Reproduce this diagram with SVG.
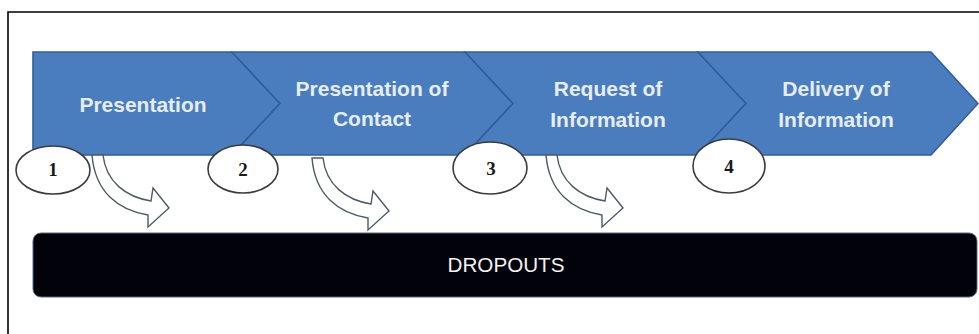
<svg xmlns="http://www.w3.org/2000/svg" width="979" height="334" viewBox="0 0 979 334">
<style>
.chev{fill:#4a7dbd;stroke:#2f5e9c;stroke-width:1.6;stroke-linejoin:miter}
.lbl{font-family:"Liberation Sans",Arial,sans-serif;font-weight:bold;font-size:21px;fill:#e6edf7;text-anchor:middle}
.num{fill:#ffffff;stroke:#3c3c3c;stroke-width:1.6}
.numt{font-family:"Liberation Serif","Times New Roman",serif;font-weight:bold;font-size:19px;fill:#1a1a1a;text-anchor:middle}
.arr{fill:#ffffff;stroke:#505a66;stroke-width:1.4;stroke-linejoin:miter}
</style>
<defs>
<path id="curvArrow" d="M92,155 C95,192 118,210 148,215 L148,227 L169,208 L153,188 L151,201 C126,197 106,182 103,155 Z"/>
</defs>
<rect width="979" height="334" fill="#ffffff"/>
<path d="M8,334 V12 H979" fill="none" stroke="#000000" stroke-width="1.6"/>

<g id="step1">
<path class="chev" d="M33,52 H232 L280,103.5 L232,155 H33 Z"/>
<text class="lbl" x="143" y="112">Presentation</text>
</g>
<g id="step2">
<path class="chev" d="M232,52 H465 L513,103.5 L465,155 H232 L280,103.5 Z"/>
<text class="lbl" x="372" y="96">Presentation of</text>
<text class="lbl" x="372" y="126">Contact</text>
</g>
<g id="step3">
<path class="chev" d="M465,52 H698 L746,103.5 L698,155 H465 L513,103.5 Z"/>
<text class="lbl" x="608" y="96">Request of</text>
<text class="lbl" x="608" y="127">Information</text>
</g>
<g id="step4">
<path class="chev" d="M698,52 H931 L978,103.5 L931,155 H698 L746,103.5 Z"/>
<text class="lbl" x="836" y="96">Delivery of</text>
<text class="lbl" x="836" y="127">Information</text>
</g>

<g id="connectors">
<use href="#curvArrow" class="arr"/>
<use href="#curvArrow" class="arr" transform="translate(220,3)"/>
<use href="#curvArrow" class="arr" transform="translate(454,0)"/>
</g>

<g id="marker1">
<ellipse class="num" cx="53" cy="170" rx="37" ry="24"/>
<text class="numt" x="53" y="176">1</text>
</g>
<g id="marker2">
<ellipse class="num" cx="243" cy="169" rx="35" ry="24"/>
<text class="numt" x="243" y="176">2</text>
</g>
<g id="marker3">
<ellipse class="num" cx="490" cy="168" rx="37" ry="26"/>
<text class="numt" x="491" y="175">3</text>
</g>
<g id="marker4">
<ellipse class="num" cx="729" cy="166" rx="36" ry="27"/>
<text class="numt" x="729" y="173">4</text>
</g>

<g id="dropouts">
<rect x="33" y="233" width="944" height="64" rx="8" ry="8" fill="#02030a" stroke="#5a6478" stroke-width="1"/>
<text x="506" y="272" font-family="'Liberation Sans',Arial,sans-serif" font-size="21" fill="#f2f2f2" text-anchor="middle" textLength="117" lengthAdjust="spacingAndGlyphs">DROPOUTS</text>
</g>
</svg>
